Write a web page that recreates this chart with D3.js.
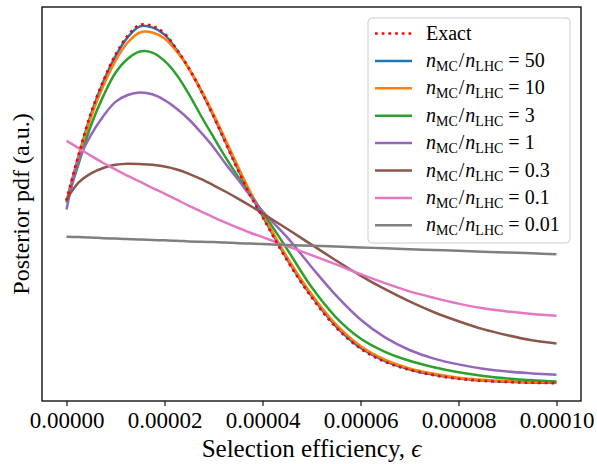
<!DOCTYPE html>
<html lang="en">
<head>
  <meta charset="UTF-8">
  <title>Posterior pdf vs selection efficiency</title>
  <style>
    body { margin: 0; background: #fff; }
    svg text { font-family: 'Liberation Serif', 'Times New Roman', serif; fill: #000; }
  </style>
</head>
<body>
  <div class="workspace"></div>
  <script src="https://cdn.jsdelivr.net/npm/d3@7"></script>
  <script>
    // selection efficiency grid (shared by every curve)
    const eps = [0, 0.25e-5, 0.5e-5, 0.75e-5, 1e-5, 1.25e-5, 1.5e-5, 1.75e-5, 2e-5, 2.25e-5,
      2.5e-5, 2.75e-5, 3e-5, 3.25e-5, 3.5e-5, 3.75e-5, 4e-5, 4.5e-5, 5e-5, 5.5e-5,
      6e-5, 6.5e-5, 7e-5, 7.5e-5, 8e-5, 8.5e-5, 9e-5, 9.5e-5, 1e-4]

    // posterior pdf, arbitrary units
    const exact = [0.508, 0.636, 0.751, 0.840, 0.913, 0.966, 0.996, 0.993, 0.972, 0.928,
      0.875, 0.812, 0.742, 0.667, 0.592, 0.522, 0.462, 0.342, 0.239, 0.155,
      0.096, 0.059, 0.037, 0.022, 0.012, 0.006, 0.003, 0.001, 0.000]
    const r50 = [0.506, 0.633, 0.748, 0.837, 0.909, 0.962, 0.992, 0.989, 0.969, 0.926,
      0.874, 0.812, 0.743, 0.669, 0.595, 0.525, 0.465, 0.345, 0.242, 0.158,
      0.098, 0.061, 0.038, 0.023, 0.013, 0.007, 0.0035, 0.0015, 0.0006]
    const r10 = [0.504, 0.628, 0.740, 0.826, 0.896, 0.947, 0.975, 0.975, 0.958, 0.922,
      0.874, 0.815, 0.748, 0.675, 0.602, 0.532, 0.471, 0.350, 0.247, 0.163,
      0.103, 0.065, 0.041, 0.026, 0.015, 0.009, 0.0053, 0.0034, 0.0022]
    const r3 = [0.502, 0.611, 0.717, 0.798, 0.863, 0.902, 0.922, 0.919, 0.896, 0.857,
      0.803, 0.742, 0.684, 0.627, 0.574, 0.523, 0.476, 0.373, 0.267, 0.183,
      0.124, 0.087, 0.062, 0.044, 0.030, 0.020, 0.013, 0.008, 0.0045]
    const r1 = [0.483, 0.619, 0.690, 0.742, 0.782, 0.801, 0.808, 0.803, 0.787, 0.763,
      0.733, 0.696, 0.656, 0.609, 0.566, 0.521, 0.478, 0.406, 0.323, 0.244,
      0.177, 0.127, 0.092, 0.068, 0.052, 0.040, 0.032, 0.027, 0.023]
    const r03 = [0.510, 0.558, 0.583, 0.598, 0.607, 0.610, 0.609, 0.607, 0.602, 0.594,
      0.582, 0.567, 0.550, 0.532, 0.513, 0.493, 0.472, 0.429, 0.385, 0.341,
      0.299, 0.261, 0.227, 0.197, 0.172, 0.150, 0.133, 0.119, 0.110]
    const r01 = [0.674, 0.653, 0.632, 0.612, 0.594, 0.576, 0.560, 0.543, 0.527, 0.510,
      0.493, 0.477, 0.461, 0.446, 0.432, 0.418, 0.406, 0.381, 0.356, 0.330,
      0.303, 0.278, 0.255, 0.237, 0.221, 0.208, 0.199, 0.192, 0.187]
    const r001 = [0.407, 0.406, 0.405, 0.403, 0.402, 0.401, 0.399, 0.398, 0.397, 0.396,
      0.394, 0.393, 0.392, 0.391, 0.389, 0.388, 0.387, 0.384, 0.382, 0.380,
      0.377, 0.375, 0.372, 0.370, 0.368, 0.365, 0.363, 0.361, 0.358]

    const ratioLabels = ['50', '10', '3', '1', '0.3', '0.1', '0.01']
    const ratioSeries = [r50, r10, r3, r1, r03, r01, r001]
    const ratioColors = ['#1f77b4', '#ff7f0e', '#2ca02c', '#9467bd', '#8c564b', '#e377c2', '#7f7f7f']
    const xTicks = [0, 2e-5, 4e-5, 6e-5, 8e-5, 1e-4]

    const width = 597
    const height = 464
    const margin = { top: 7, right: 16, bottom: 63, left: 42 }

    const svg = d3.select('.workspace').append('svg')
      .attr('width', width)
      .attr('height', height)

    // matplotlib style 5% margins around the data
    const pad = ([a, b]) => [a - 0.05 * (b - a), b + 0.05 * (b - a)]
    const allY = ratioSeries.concat([exact]).flat()

    const x = d3.scaleLinear()
      .domain(pad(d3.extent(eps)))
      .range([margin.left, width - margin.right])
    const y = d3.scaleLinear()
      .domain(pad(d3.extent(allY)))
      .range([height - margin.bottom, margin.top])

    const line = d3.line()
      .x(d => x(d[0]))
      .y(d => y(d[1]))
      .curve(d3.curveCatmullRom.alpha(0.5))

    const gLines = svg.append('g')
    ratioSeries.forEach((s, i) => {
      gLines.append('path')
        .attr('d', line(eps.map((e, j) => [e, s[j]])))
        .attr('fill', 'none')
        .attr('stroke', ratioColors[i])
        .attr('stroke-width', 2.5)
    })
    gLines.append('path')
      .attr('d', line(eps.map((e, j) => [e, exact[j]])))
      .attr('fill', 'none')
      .attr('stroke', 'red')
      .attr('stroke-width', 2.7)
      .attr('stroke-dasharray', '2.7,4')

    // axes frame
    svg.append('rect')
      .attr('x', margin.left)
      .attr('y', margin.top)
      .attr('width', width - margin.left - margin.right)
      .attr('height', height - margin.top - margin.bottom)
      .attr('fill', 'none')
      .attr('stroke', '#000')
      .attr('stroke-width', 1.3)

    const xAxis = svg.append('g')
      .attr('transform', `translate(0,${height - margin.bottom})`)
      .call(d3.axisBottom(x).tickValues(xTicks).tickSize(5).tickPadding(6)
        .tickFormat(d => d.toFixed(5)))
    xAxis.select('.domain').remove()
    xAxis.selectAll('.tick line').attr('stroke', '#000').attr('stroke-width', 1.1)
    xAxis.selectAll('.tick text')
      .style('font-family', "'Liberation Serif', serif")
      .style('font-size', '23px')

    svg.append('text')
      .attr('x', (margin.left + width - margin.right) / 2)
      .attr('y', 457)
      .attr('text-anchor', 'middle')
      .style('font-size', '25px')
      .text('Selection efficiency, ')
      .append('tspan')
      .style('font-style', 'italic')
      .text('ϵ')

    svg.append('text')
      .attr('transform', `translate(29,${(margin.top + height - margin.bottom) / 2}) rotate(-90)`)
      .attr('text-anchor', 'middle')
      .style('font-size', '24px')
      .text('Posterior pdf (a.u.)')

    // legend
    const lg = svg.append('g').attr('transform', 'translate(368,18)')
    lg.append('rect')
      .attr('width', 202)
      .attr('height', 225)
      .attr('rx', 4)
      .attr('fill', '#fff')
      .attr('fill-opacity', 0.8)
      .attr('stroke', '#cccccc')
      .attr('stroke-width', 1)

    const rowH = 27.4
    const row0 = 15.5
    const entries = [{ label: null, color: 'red', dash: '2.7,4' }]
      .concat(ratioLabels.map((l, i) => ({ label: l, color: ratioColors[i], dash: null })))

    entries.forEach((e, i) => {
      const cy = row0 + i * rowH
      lg.append('line')
        .attr('x1', 7).attr('x2', 44)
        .attr('y1', cy).attr('y2', cy)
        .attr('stroke', e.color)
        .attr('stroke-width', e.dash ? 2.7 : 2.5)
        .attr('stroke-dasharray', e.dash)
      const t = lg.append('text')
        .attr('x', 58)
        .attr('y', cy + 6)
        .style('font-size', '20px')
      if (e.label === null) {
        t.text('Exact')
      } else {
        t.append('tspan').style('font-style', 'italic').text('n')
        t.append('tspan').attr('dy', 4).style('font-size', '14px').text('MC')
        t.append('tspan').attr('dy', -4).attr('dx', 1).text('/')
        t.append('tspan').attr('dx', 1).style('font-style', 'italic').text('n')
        t.append('tspan').attr('dy', 4).style('font-size', '14px').text('LHC')
        t.append('tspan').attr('dy', -4).text(' = ' + e.label)
      }
    })
  </script>
</body>
</html>
